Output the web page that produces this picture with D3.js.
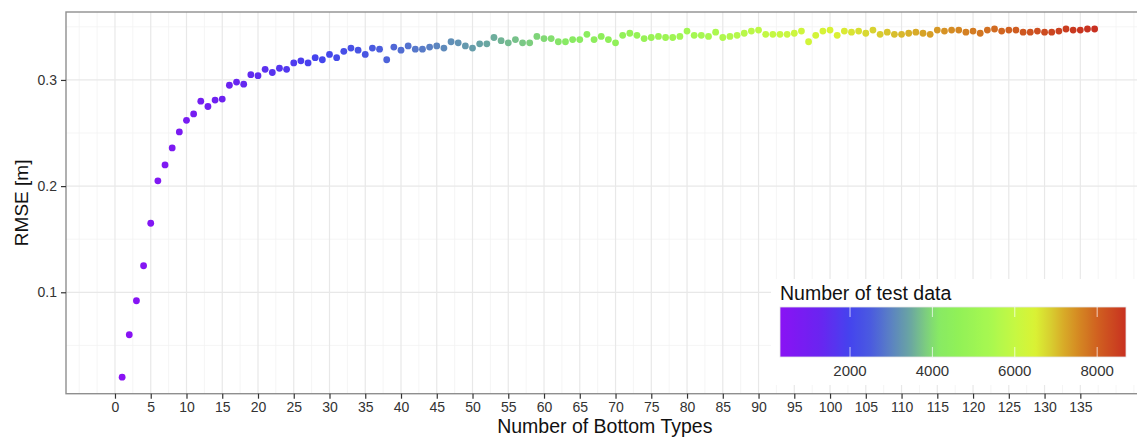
<!DOCTYPE html>
<html>
<head>
<meta charset="utf-8">
<script src="https://cdn.jsdelivr.net/npm/d3@7"></script>
<style>
  html, body { margin: 0; padding: 0; background: #fff; }
  svg { display: block; font-family: "Liberation Sans", Arial, Helvetica, sans-serif; }
</style>
</head>
<body>
<svg id="chart" width="1137" height="438"></svg>
<script>
// ---- data ----
const bottomTypes = d3.range(1, 138); // 1..137 bottom types
const rmse = [
  0.020, 0.060, 0.092, 0.125, 0.165, 0.205, 0.220, 0.236, 0.251, 0.262,
  0.268, 0.280, 0.275, 0.281, 0.282, 0.295, 0.298, 0.296, 0.305, 0.304,
  0.310, 0.307, 0.311, 0.310, 0.316, 0.318, 0.316, 0.321, 0.319, 0.324,
  0.321, 0.327, 0.330, 0.328, 0.324, 0.330, 0.329, 0.319, 0.331, 0.328,
  0.332, 0.329, 0.329, 0.331, 0.332, 0.330, 0.336, 0.335, 0.332, 0.330,
  0.334, 0.334, 0.340, 0.337, 0.335, 0.338, 0.335, 0.335, 0.341, 0.339,
  0.339, 0.336, 0.336, 0.338, 0.338, 0.343, 0.338, 0.341, 0.338, 0.335,
  0.342, 0.344, 0.342, 0.339, 0.340, 0.341, 0.340, 0.340, 0.341, 0.346,
  0.342, 0.342, 0.341, 0.345, 0.340, 0.341, 0.342, 0.344, 0.346, 0.347,
  0.343, 0.343, 0.343, 0.343, 0.344, 0.346, 0.336, 0.342, 0.346, 0.347,
  0.342, 0.346, 0.345, 0.346, 0.344, 0.347, 0.343, 0.345, 0.343, 0.343,
  0.344, 0.345, 0.344, 0.343, 0.347, 0.346, 0.347, 0.347, 0.345, 0.346,
  0.344, 0.347, 0.348, 0.346, 0.347, 0.347, 0.345, 0.345, 0.346, 0.345,
  0.345, 0.346, 0.348, 0.347, 0.347, 0.348, 0.348
];
const testData = [
  300, 360, 420, 490, 550, 610, 670, 730, 800, 860,
  920, 980, 1050, 1110, 1170, 1230, 1300, 1360, 1420, 1480,
  1540, 1610, 1670, 1730, 1790, 1850, 1920, 1980, 2040, 2100,
  2170, 2230, 2290, 2350, 2410, 2480, 2540, 2600, 2660, 2730,
  2790, 2850, 2910, 2970, 3040, 3100, 3160, 3220, 3290, 3350,
  3410, 3470, 3530, 3600, 3660, 3720, 3780, 3850, 3910, 3970,
  4030, 4090, 4160, 4220, 4280, 4340, 4410, 4470, 4530, 4590,
  4650, 4720, 4780, 4840, 4900, 4970, 5030, 5090, 5150, 5210,
  5280, 5340, 5400, 5460, 5530, 5590, 5650, 5710, 5770, 5840,
  5900, 5960, 6020, 6080, 6150, 6210, 6270, 6330, 6400, 6460,
  6520, 6580, 6640, 6710, 6770, 6830, 6890, 6960, 7020, 7080,
  7140, 7200, 7270, 7330, 7390, 7450, 7520, 7580, 7640, 7700,
  7760, 7830, 7890, 7950, 8010, 8070, 8140, 8200, 8260, 8320,
  8390, 8450, 8510, 8570, 8630, 8660, 8700
];
const xTicks = d3.range(0, 136, 5);
const yTicks = [0.1, 0.2, 0.3];
const legendTicks = [2000, 4000, 6000, 8000];
// colour ramp stops
const rampValues = [300, 1270, 2000, 2490, 2970, 3460, 3830, 4150, 4600, 5400, 6000, 6500, 6850, 7200, 7600, 8010, 8330, 8700];
const rampColors = ["#8a12f4", "#6a24f0", "#4444ee", "#4a5ae0", "#5a80c4", "#6aa6a2", "#7ccc80", "#88ea64", "#90f058", "#a8f850", "#c6f842", "#daf234", "#d8d030", "#d8aa28", "#d48422", "#d06020", "#cc4a20", "#c83020"];

const xLabel = "Number of Bottom Types";
const yLabel = "RMSE [m]";
const legendTitle = "Number of test data";

// ---- layout ----
const svg = d3.select("#chart");
const panel = { left: 66, top: 12, bottom: 393.7, right: 1143.6 };

const x = d3.scaleLinear().domain([-6.85, 143.85]).range([panel.left, panel.right]);
const y = d3.scaleLinear().domain([0.00447, 0.364]).range([panel.bottom, panel.top]);

const nMin = d3.min(testData), nMax = d3.max(testData);
const color = d3.scaleLinear()
  .domain(rampValues)
  .range(rampColors)
  .interpolate(d3.interpolateRgb)
  .clamp(true);

const defs = svg.append("defs");
defs.append("clipPath").attr("id", "panelClip")
  .append("rect").attr("x", panel.left).attr("y", panel.top)
  .attr("width", panel.right - panel.left).attr("height", panel.bottom - panel.top);

const g = svg.append("g").attr("clip-path", "url(#panelClip)");

// minor grid
const xMinor = d3.range(-5, 143, 2.5).filter(v => v % 5 !== 0 || v < 0 || v > 135);
const yMinor = [0.05, 0.15, 0.25, 0.35];
g.selectAll(".xminor").data(xMinor).enter().append("line")
  .attr("x1", d => x(d)).attr("x2", d => x(d))
  .attr("y1", panel.top).attr("y2", panel.bottom)
  .attr("stroke", "#f3f3f3").attr("stroke-width", 0.8);
g.selectAll(".yminor").data(yMinor).enter().append("line")
  .attr("y1", d => y(d)).attr("y2", d => y(d))
  .attr("x1", panel.left).attr("x2", panel.right)
  .attr("stroke", "#f3f3f3").attr("stroke-width", 0.8);
// major grid
g.selectAll(".xmajor").data(xTicks).enter().append("line")
  .attr("x1", d => x(d)).attr("x2", d => x(d))
  .attr("y1", panel.top).attr("y2", panel.bottom)
  .attr("stroke", "#e8e8e8").attr("stroke-width", 1.2);
g.selectAll(".ymajor").data(yTicks).enter().append("line")
  .attr("y1", d => y(d)).attr("y2", d => y(d))
  .attr("x1", panel.left).attr("x2", panel.right)
  .attr("stroke", "#e8e8e8").attr("stroke-width", 1.2);

// points
g.selectAll("circle").data(bottomTypes).enter().append("circle")
  .attr("cx", (d) => x(d))
  .attr("cy", (d, i) => y(rmse[i]))
  .attr("r", 3.4)
  .attr("fill", (d, i) => color(testData[i]));

// panel border
svg.append("rect")
  .attr("x", panel.left).attr("y", panel.top)
  .attr("width", panel.right - panel.left).attr("height", panel.bottom - panel.top)
  .attr("fill", "none").attr("stroke", "#8f8f8f").attr("stroke-width", 1.4);

// axes
const xAxis = d3.axisBottom(x).tickValues(xTicks).tickSize(5).tickPadding(3).tickSizeOuter(0);
const xg = svg.append("g").attr("transform", `translate(0,${panel.bottom})`).call(xAxis);
xg.select(".domain").remove();
xg.selectAll("line").attr("stroke", "#333").attr("stroke-width", 1.2);
xg.selectAll("text").attr("fill", "#333").style("font-size", "14px").style("font-family", "Liberation Sans, Arial, sans-serif");

const yAxis = d3.axisLeft(y).tickValues(yTicks).tickFormat(d3.format(".1f")).tickSize(5).tickPadding(4).tickSizeOuter(0);
const yg = svg.append("g").attr("transform", `translate(${panel.left},0)`).call(yAxis);
yg.select(".domain").remove();
yg.selectAll("line").attr("stroke", "#333").attr("stroke-width", 1.2);
yg.selectAll("text").attr("fill", "#333").style("font-size", "14px").style("font-family", "Liberation Sans, Arial, sans-serif");

// axis titles
svg.append("text")
  .attr("x", (panel.left + panel.right) / 2).attr("y", 432.5)
  .attr("text-anchor", "middle").style("font-size", "19.5px").attr("fill", "#111")
  .text(xLabel);
svg.append("text")
  .attr("transform", `translate(28,${(panel.top + panel.bottom) / 2}) rotate(-90)`)
  .attr("text-anchor", "middle").style("font-size", "19px").attr("fill", "#111")
  .text(yLabel);

// legend
const leg = svg.append("g");
leg.append("rect").attr("x", 771).attr("y", 279).attr("width", 380).attr("height", 106).attr("fill", "#fff");
leg.append("text").attr("x", 780).attr("y", 300).style("font-size", "19.5px").attr("fill", "#111").text(legendTitle);

const bar = { x0: 780, x1: 1126, y0: 307, y1: 357 };
const lx = d3.scaleLinear().domain([nMin, nMax]).range([bar.x0, bar.x1]);
const grad = defs.append("linearGradient").attr("id", "cbar")
  .attr("x1", "0%").attr("x2", "100%").attr("y1", "0%").attr("y2", "0%");
d3.range(0, 101).forEach(p => {
  grad.append("stop").attr("offset", p + "%").attr("stop-color", color(nMin + (nMax - nMin) * p / 100));
});
leg.append("rect").attr("x", bar.x0).attr("y", bar.y0)
  .attr("width", bar.x1 - bar.x0).attr("height", bar.y1 - bar.y0)
  .attr("fill", "url(#cbar)").attr("stroke", "#e6e6e6").attr("stroke-width", 0.8);
legendTicks.forEach(t => {
  leg.append("line").attr("x1", lx(t)).attr("x2", lx(t)).attr("y1", bar.y0).attr("y2", bar.y0 + 10)
    .attr("stroke", "#fff").attr("stroke-opacity", 0.7).attr("stroke-width", 1);
  leg.append("line").attr("x1", lx(t)).attr("x2", lx(t)).attr("y1", bar.y1 - 10).attr("y2", bar.y1)
    .attr("stroke", "#fff").attr("stroke-opacity", 0.7).attr("stroke-width", 1);
  leg.append("text").attr("x", lx(t)).attr("y", 376).attr("text-anchor", "middle")
    .style("font-size", "15px").attr("fill", "#333").text(t);
});
</script>
</body>
</html>
